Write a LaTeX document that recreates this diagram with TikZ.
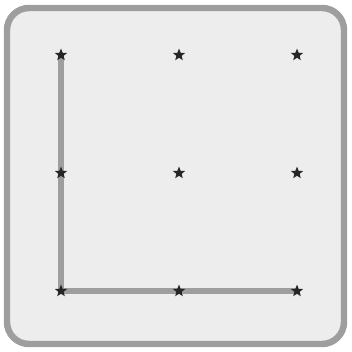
\documentclass[tikz,border=0pt]{standalone}
\usepackage{tikz}
\usetikzlibrary{shapes.geometric}
\pgfdeclarelayer{back}
\pgfsetlayers{back,main}

\begin{document}
\begin{tikzpicture}[
  x=0.025cm,y=-0.025cm,
  frame/.style={draw=black!38,fill=black!7,line width=4.6pt,rounded corners=0.55cm},
  pt/.style={star,star points=5,star point ratio=2.3,fill=black!85,draw=none,minimum size=0.32cm,inner sep=0pt},
  axis/.style={draw=black!38,line width=4.3pt}
]
\useasboundingbox (0,0) rectangle (352,352);
% grid of points
\foreach \i/\x in {1/61,2/179,3/297}{
  \foreach \j/\y in {1/55,2/173,3/291}{
    \node[pt] (p\i\j) at (\x,\y) {};
  }
}
\begin{pgfonlayer}{back}
\path[frame] (7,8) rectangle (344,344);
% the L
\draw[axis] (p11.center) -- (p13.center) -- (p33.center);
\end{pgfonlayer}
\end{tikzpicture}
\end{document}
